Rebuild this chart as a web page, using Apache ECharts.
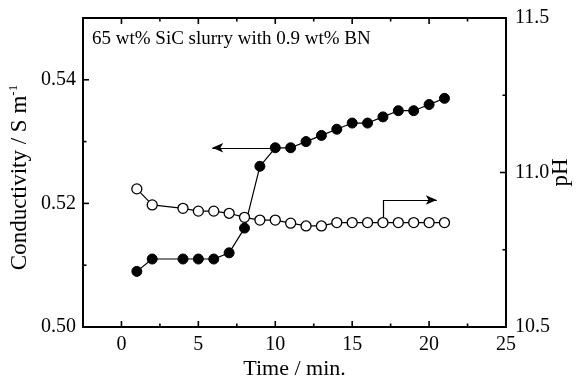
<!DOCTYPE html>
<html>
<head>
<meta charset="utf-8">
<script src="https://cdn.jsdelivr.net/npm/echarts@6/dist/echarts.min.js"></script>
<style>
  html, body { margin: 0; padding: 0; background: #fff; }
  #chart { width: 577px; height: 382px; }
</style>
</head>
<body>
<div id="chart"></div>
<script>
// Measurement times (min)
const times = [1, 2, 4, 5, 6, 7, 8, 9, 10, 11, 12, 13, 14, 15, 16, 17, 18, 19, 20, 21];
// Conductivity (S/m), filled circles, left axis
const conductivity = [0.509, 0.511, 0.511, 0.511, 0.511, 0.512, 0.516, 0.526, 0.529, 0.529,
                      0.530, 0.531, 0.532, 0.533, 0.533, 0.534, 0.535, 0.535, 0.536, 0.537];
// pH, open circles, right axis
const pH = [10.947, 10.895, 10.884, 10.875, 10.875, 10.868, 10.855, 10.846, 10.846, 10.836,
            10.827, 10.827, 10.838, 10.838, 10.838, 10.838, 10.838, 10.838, 10.838, 10.838];

// Tick marks
const xMajorTicks = [0, 5, 10, 15, 20, 25];
const xMinorTicks = [2.5, 7.5, 12.5, 17.5, 22.5];
const condMajorTicks = [0.50, 0.52, 0.54];
const condMinorTicks = [0.51, 0.53];
const pHMajorTicks = [10.5, 11.0, 11.5];
const pHMinorTicks = [10.75, 11.25];

const noteText = '65 wt% SiC slurry with 0.9 wt% BN';

// Arrows pointing each curve to its axis (data units)
const condArrow = [[10, 0.529], [5.9, 0.529]];
const pHArrow = [[17, 10.855], [17, 10.911], [20.5, 10.911]];

const X_MIN = -2.5, X_MAX = 25;
const C_MIN = 0.50, C_MAX = 0.55;
const P_MIN = 10.5, P_MAX = 11.5;

const FONT = '"Liberation Serif", "Times New Roman", serif';
const BLACK = '#000';
const MAJOR_LEN = 6, MINOR_LEN = 3.5;   // px

const frameLine = { show: true, onZero: false, lineStyle: { color: BLACK, width: 2 } };
const labelStyle = { color: BLACK, fontFamily: FONT, fontSize: 20 };

const noteGraphic = {
  id: 'note', type: 'text', left: 92, top: 30, z: 10,
  style: { text: noteText, fontFamily: FONT, fontSize: 19, fill: BLACK }
};

const option = {
  animation: false,
  backgroundColor: '#fff',
  grid: { left: 83, right: 71, top: 18, bottom: 55, outerBoundsMode: 'none' },
  xAxis: [
    {
      type: 'value', position: 'bottom', min: X_MIN, max: X_MAX, interval: 2.5,
      axisLine: frameLine, axisTick: { show: false }, splitLine: { show: false },
      axisLabel: Object.assign({ margin: 8, showMinLabel: true, showMaxLabel: true,
        formatter: v => { const r = Math.round(v * 10) / 10; return (r >= 0 && r % 5 === 0) ? String(r) : ''; } },
        labelStyle),
      name: 'Time / min.', nameLocation: 'middle', nameGap: 31, nameMoveOverlap: false,
      nameTextStyle: { fontFamily: FONT, fontSize: 22, fontWeight: 'normal', color: BLACK }
    },
    {
      type: 'value', position: 'top', min: X_MIN, max: X_MAX, interval: 2.5,
      axisLine: frameLine, axisTick: { show: false }, splitLine: { show: false },
      axisLabel: { show: false }
    }
  ],
  yAxis: [
    {
      type: 'value', position: 'left', min: C_MIN, max: C_MAX, interval: 0.01,
      axisLine: frameLine, axisTick: { show: false }, splitLine: { show: false },
      axisLabel: Object.assign({ margin: 7, showMinLabel: true, showMaxLabel: true,
        formatter: v => { const r = Math.round(v * 100); return (r % 2 === 0 && r < 55) ? (r / 100).toFixed(2) : ''; } },
        labelStyle),
      name: 'Conductivity / S m{sup|-1}', nameLocation: 'middle', nameGap: 51, nameRotate: 90,
      nameMoveOverlap: false,
      nameTextStyle: { fontFamily: FONT, fontSize: 23, color: BLACK, lineHeight: 25,
        padding: [0, 10, 0, 0],
        rich: { sup: { fontFamily: FONT, fontSize: 13, color: BLACK, verticalAlign: 'top', lineHeight: 25 } } }
    },
    {
      type: 'value', position: 'right', min: P_MIN, max: P_MAX, interval: 0.25,
      axisLine: frameLine, axisTick: { show: false }, splitLine: { show: false },
      axisLabel: Object.assign({ margin: 9, showMinLabel: true, showMaxLabel: true,
        formatter: v => { const r = Math.round(v * 100); return (r % 50 === 0) ? (r / 100).toFixed(1) : ''; } },
        labelStyle),
      name: 'pH', nameLocation: 'middle', nameGap: 43, nameRotate: 90, nameMoveOverlap: false,
      nameTextStyle: { fontFamily: FONT, fontSize: 23, color: BLACK }
    }
  ],
  graphic: [noteGraphic],
  series: [
    {
      name: 'Conductivity', type: 'line', xAxisIndex: 0, yAxisIndex: 0, clip: false,
      data: times.map((t, i) => [t, conductivity[i]]),
      symbol: 'circle', symbolSize: 10, showAllSymbol: true,
      lineStyle: { color: BLACK, width: 1.2 },
      itemStyle: { color: BLACK, borderColor: BLACK, borderWidth: 1 },
      markLine: {
        silent: true, animation: false, label: { show: false },
        lineStyle: { color: BLACK, width: 1.2, type: 'solid' },
        symbol: ['none', 'none'], symbolSize: [7, 11],
        data: [[{ coord: condArrow[0], symbol: 'none' }, { coord: condArrow[1], symbol: 'arrow' }]]
      }
    },
    {
      name: 'pH', type: 'line', xAxisIndex: 0, yAxisIndex: 1, clip: false,
      data: times.map((t, i) => [t, pH[i]]),
      symbol: 'circle', symbolSize: 10, showAllSymbol: true,
      lineStyle: { color: BLACK, width: 1.2 },
      itemStyle: { color: '#fff', borderColor: BLACK, borderWidth: 1.3 },
      markLine: {
        silent: true, animation: false, label: { show: false },
        lineStyle: { color: BLACK, width: 1.2, type: 'solid' },
        symbol: ['none', 'none'], symbolSize: [7, 11],
        data: [
          [{ coord: pHArrow[0], symbol: 'none' }, { coord: pHArrow[1], symbol: 'none' }],
          [{ coord: pHArrow[1], symbol: 'none' }, { coord: pHArrow[2], symbol: 'arrow' }]
        ]
      }
    }
  ]
};

const chart = echarts.init(document.getElementById('chart'), null, { renderer: 'canvas' });
chart.setOption(option);

// Inward frame ticks, positioned through the axis scales once the layout exists
const condFinder = { xAxisIndex: 0, yAxisIndex: 0 };
const pHFinder = { xAxisIndex: 0, yAxisIndex: 1 };
const tickStyle = { stroke: BLACK, lineWidth: 1.6 };
const tickGraphics = [];
let n = 0;
function tick(x1, y1, x2, y2) {
  tickGraphics.push({ id: 'tick' + (n++), type: 'line', z: 20, silent: true,
    shape: { x1: x1, y1: y1, x2: x2, y2: y2 }, style: tickStyle });
}
[[xMajorTicks, MAJOR_LEN], [xMinorTicks, MINOR_LEN]].forEach(([vals, len]) => vals.forEach(v => {
  const b = chart.convertToPixel(condFinder, [v, C_MIN]);
  const t = chart.convertToPixel(condFinder, [v, C_MAX]);
  tick(b[0], b[1], b[0], b[1] - len);
  tick(t[0], t[1], t[0], t[1] + len);
}));
[[condMajorTicks, MAJOR_LEN], [condMinorTicks, MINOR_LEN]].forEach(([vals, len]) => vals.forEach(v => {
  const p = chart.convertToPixel(condFinder, [X_MIN, v]);
  tick(p[0], p[1], p[0] + len, p[1]);
}));
[[pHMajorTicks, MAJOR_LEN], [pHMinorTicks, MINOR_LEN]].forEach(([vals, len]) => vals.forEach(v => {
  const p = chart.convertToPixel(pHFinder, [X_MAX, v]);
  tick(p[0], p[1], p[0] - len, p[1]);
}));
chart.setOption({ graphic: [noteGraphic].concat(tickGraphics) });
</script>
</body>
</html>
